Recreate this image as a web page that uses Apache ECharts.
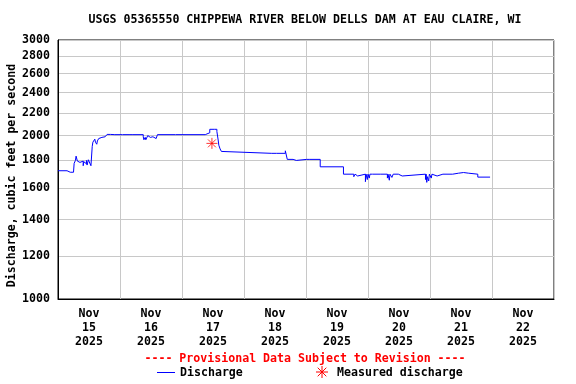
<!DOCTYPE html>
<html>
<head>
<meta charset="utf-8">
<script src="https://cdn.jsdelivr.net/npm/echarts@6/dist/echarts.min.js"></script>
<style>html,body{margin:0;padding:0;background:#fff}#c{width:576px;height:384px}</style>
</head>
<body>
<div id="c"></div>
<script>
const titleText = 'USGS 05365550 CHIPPEWA RIVER BELOW DELLS DAM AT EAU CLAIRE, WI';
const yAxisName = 'Discharge, cubic feet per second';
const provisionalText = '---- Provisional Data Subject to Revision ----';
const legendNames = ['Discharge', 'Measured discharge'];
const yTicks = [1000, 1200, 1400, 1600, 1800, 2000, 2200, 2400, 2600, 2800, 3000];
const dayTicks = ['2025-11-15 00:00','2025-11-16 00:00','2025-11-17 00:00','2025-11-18 00:00','2025-11-19 00:00','2025-11-20 00:00','2025-11-21 00:00','2025-11-22 00:00','2025-11-23 00:00'];
const dayLabels = ['2025-11-15 12:00','2025-11-16 12:00','2025-11-17 12:00','2025-11-18 12:00','2025-11-19 12:00','2025-11-20 12:00','2025-11-21 12:00','2025-11-22 12:00'];
const discharge = [
['2025-11-15 00:00',1723],['2025-11-15 03:30',1712],['2025-11-15 04:45',1723],['2025-11-15 05:30',1712],['2025-11-15 06:00',1723],
['2025-11-15 06:15',1778],['2025-11-15 06:45',1800],['2025-11-15 07:00',1833],['2025-11-15 07:30',1795],['2025-11-15 07:45',1808],
['2025-11-15 08:00',1785],['2025-11-15 08:30',1800],['2025-11-15 09:00',1770],['2025-11-15 09:15',1795],['2025-11-15 09:45',1760],
['2025-11-15 10:00',1790],['2025-11-15 10:30',1775],['2025-11-15 11:00',1800],['2025-11-15 11:15',1765],['2025-11-15 11:45',1805],
['2025-11-15 12:00',1790],['2025-11-15 12:30',1810],['2025-11-15 12:45',1760],['2025-11-15 13:15',1910],['2025-11-15 13:30',1945],
['2025-11-15 13:45',1960],['2025-11-15 14:15',1970],['2025-11-15 14:30',1945],['2025-11-15 15:00',1928],['2025-11-15 15:15',1955],
['2025-11-15 15:45',1975],['2025-11-15 16:00',1960],['2025-11-15 16:30',1985],['2025-11-15 17:00',1975],['2025-11-15 17:15',1995],
['2025-11-15 17:45',1990],['2025-11-15 18:15',2005],['2025-11-15 18:30',2000],['2025-11-15 19:00',2010],['2025-11-15 20:15',2005],
['2025-11-15 20:45',2008],['2025-11-15 22:00',2004],['2025-11-15 22:15',2008],
['2025-11-16 01:00',2004],['2025-11-16 01:15',2008],['2025-11-16 03:30',2012],['2025-11-16 03:45',2008],['2025-11-16 05:00',2004],['2025-11-16 05:15',2008],
['2025-11-16 09:00',1990],['2025-11-16 09:15',1965],['2025-11-16 09:45',1985],['2025-11-16 10:00',1965],['2025-11-16 10:45',2000],
['2025-11-16 11:15',1985],['2025-11-16 11:45',2000],['2025-11-16 12:00',1975],['2025-11-16 12:30',1995],['2025-11-16 12:45',1990],
['2025-11-16 13:15',2000],['2025-11-16 13:30',1975],['2025-11-16 14:00',1990],['2025-11-16 14:30',2008],
['2025-11-16 21:30',2003],['2025-11-16 21:45',2008],
['2025-11-17 09:00',2015],['2025-11-17 09:30',2024],['2025-11-17 10:45',2054],['2025-11-17 12:30',2045],['2025-11-17 12:45',2054],
['2025-11-17 13:30',2035],['2025-11-17 14:00',1963],['2025-11-17 14:15',1920],['2025-11-17 14:45',1890],['2025-11-17 15:15',1870],['2025-11-17 16:00',1855],
['2025-11-18 10:45',1850],['2025-11-18 11:30',1855],['2025-11-18 12:30',1850],['2025-11-18 13:15',1855],['2025-11-18 16:00',1875],
['2025-11-18 16:30',1860],['2025-11-18 16:45',1808],
['2025-11-18 19:00',1800],['2025-11-18 20:15',1808],['2025-11-19 00:15',1800],['2025-11-19 00:30',1808],['2025-11-19 01:30',1800],
['2025-11-19 02:00',1808],['2025-11-19 05:30',1752],['2025-11-19 14:30',1698],
['2025-11-19 18:30',1680],['2025-11-19 19:00',1698],['2025-11-19 19:30',1685],['2025-11-19 20:00',1698],['2025-11-19 23:00',1645],
['2025-11-19 23:15',1698],['2025-11-19 23:45',1660],['2025-11-20 00:00',1698],['2025-11-20 00:30',1670],['2025-11-20 00:45',1698],
['2025-11-20 01:45',1685],['2025-11-20 02:00',1698],['2025-11-20 04:45',1685],['2025-11-20 05:15',1698],['2025-11-20 07:30',1670],
['2025-11-20 07:45',1698],['2025-11-20 08:15',1655],['2025-11-20 08:30',1698],['2025-11-20 09:15',1675],['2025-11-20 09:45',1698],
['2025-11-20 11:45',1685],['2025-11-20 13:15',1698],['2025-11-20 22:15',1660],['2025-11-20 22:30',1698],['2025-11-20 22:45',1640],
['2025-11-20 23:00',1680],['2025-11-20 23:30',1650],['2025-11-20 23:45',1698],['2025-11-21 00:30',1670],['2025-11-21 00:45',1698],
['2025-11-21 01:30',1685],['2025-11-21 02:45',1698],['2025-11-21 05:00',1685],['2025-11-21 05:15',1698],['2025-11-21 08:45',1705],
['2025-11-21 11:00',1710],['2025-11-21 13:00',1705],['2025-11-21 15:00',1698],['2025-11-21 18:30',1677],['2025-11-21 23:15',1677]
];
const measured = [['2025-11-17 11:35',1935]];

const FONT = 'DejaVu Sans Mono';
const FS = 11.6;
const P = s => +echarts.time.parse(s);
const MONTHS = ['Jan','Feb','Mar','Apr','May','Jun','Jul','Aug','Sep','Oct','Nov','Dec'];
const chart = echarts.init(document.getElementById('c'), null, {renderer: 'canvas'});
const asterisk = 'path://M0,-6L0,6M-6,0L6,0M-4.3,-4.3L4.3,4.3M-4.3,4.3L4.3,-4.3';
const txtFont = 'bold ' + FS + 'px "DejaVu Sans Mono"';
const redLine = (x1, y1, x2, y2) => ({type: 'line', shape: {x1, y1, x2, y2}, style: {stroke: '#ff0000', lineWidth: 1}});
chart.setOption({
  animation: false,
  backgroundColor: '#fff',
  graphic: [
    {type: 'text', x: 305, y: 19.5, style: {text: titleText, fill: '#000', font: txtFont, align: 'center', verticalAlign: 'middle'}},
    {type: 'text', x: 305, y: 359, style: {text: provisionalText, fill: '#ff0000', font: txtFont, align: 'center', verticalAlign: 'middle'}},
    {type: 'line', shape: {x1: 157, y1: 372.5, x2: 175, y2: 372.5}, style: {stroke: '#0000ff', lineWidth: 1}},
    {type: 'text', x: 180, y: 373, style: {text: legendNames[0], fill: '#000', font: txtFont, align: 'left', verticalAlign: 'middle'}},
    {type: 'group', x: 322, y: 372, children: [
      redLine(0, -6, 0, 6), redLine(-6, 0, 6, 0), redLine(-4.3, -4.3, 4.3, 4.3), redLine(-4.3, 4.3, 4.3, -4.3)
    ]},
    {type: 'text', x: 337, y: 373, style: {text: legendNames[1], fill: '#000', font: txtFont, align: 'left', verticalAlign: 'middle'}}
  ],
  grid: {left: 58, right: 22, top: 40, bottom: 85, show: true, borderColor: '#000', borderWidth: 1, containLabel: false, outerBoundsMode: 'none'},
  xAxis: {
    type: 'value', min: P(dayTicks[0]), max: P(dayTicks[dayTicks.length - 1]),
    axisLine: {show: true, lineStyle: {color: '#000'}},
    axisTick: {show: false, customValues: dayTicks.map(P)},
    splitLine: {show: true, lineStyle: {color: '#c8c8c8', width: 1}},
    axisLabel: {
      customValues: dayLabels.map(P), margin: 8, lineHeight: 14,
      fontFamily: FONT, fontWeight: 'bold', fontSize: FS, color: '#000',
      formatter: v => { const d = new Date(v); return MONTHS[d.getMonth()] + '\n' + d.getDate() + '\n' + d.getFullYear(); }
    }
  },
  yAxis: {
    type: 'log', min: yTicks[0], max: yTicks[yTicks.length - 1],
    name: yAxisName, nameLocation: 'middle', nameGap: 40, nameMoveOverlap: false,
    nameTextStyle: {fontFamily: FONT, fontWeight: 'bold', fontSize: FS, color: '#000', padding: [0, 12, 0, 0]},
    axisLine: {show: true, lineStyle: {color: '#000'}},
    axisTick: {show: false, customValues: yTicks},
    splitLine: {show: true, lineStyle: {color: '#c8c8c8', width: 1}},
    axisLabel: {customValues: yTicks, margin: 8, fontFamily: FONT, fontWeight: 'bold', fontSize: FS, color: '#000', formatter: v => String(Math.round(v))}
  },
  series: [{
    name: legendNames[0], type: 'line', step: 'end', showSymbol: false, symbol: 'none',
    lineStyle: {color: '#0000ff', width: 1}, itemStyle: {color: '#0000ff'},
    data: discharge.map(d => [P(d[0]), d[1]])
  }, {
    name: legendNames[1], type: 'scatter', symbol: asterisk, symbolSize: 11,
    itemStyle: {color: '#ff0000', borderColor: '#ff0000', borderWidth: 1},
    data: measured.map(d => [P(d[0]), d[1]])
  }]
});
</script>
</body>
</html>
